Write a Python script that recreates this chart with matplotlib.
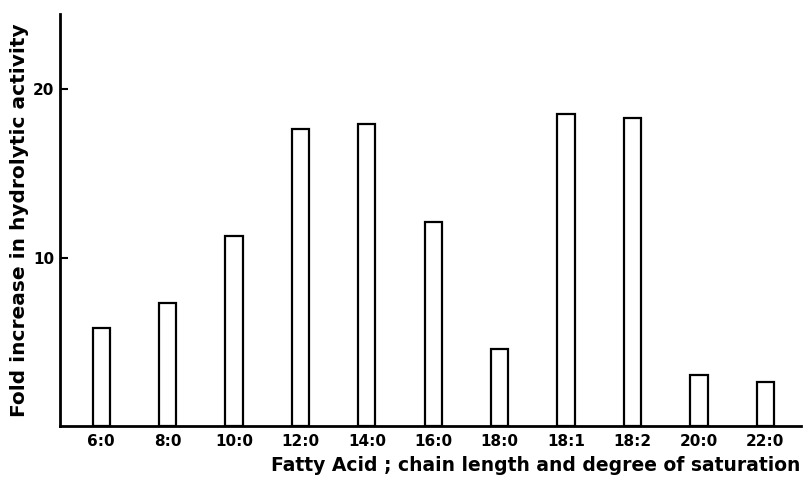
import matplotlib.pyplot as plt
import numpy as np

# fatty acid (chain length : double bonds) and fold increase in hydrolysis
acids = ['6:0', '8:0', '10:0', '12:0', '14:0', '16:0', '18:0', '18:1', '18:2', '20:0', '22:0']
fold = [5.8, 7.3, 11.3, 17.6, 17.9, 12.1, 4.6, 18.5, 18.3, 3.0, 2.6]

plt.rcParams['font.family'] = ['DejaVu Sans']
plt.rcParams['font.weight'] = 'bold'

fig = plt.figure(figsize=(8.05, 4.79), dpi=100)
ax = fig.add_axes([0.0745, 0.1106, 0.92, 0.86])

x = np.arange(len(acids))
ax.bar(x, fold, width=0.26, facecolor='white', edgecolor='black', linewidth=1.6)

ax.set_xlim(-0.62, 10.53)
ax.set_ylim(0, 24.45)
ax.set_xticks(x)
ax.set_xticklabels(acids, fontsize=11, fontweight='bold')
ax.set_yticks([10, 20])
ax.set_yticklabels(['10', '20'], fontsize=11, fontweight='bold')
ax.tick_params(axis='x', length=0, pad=6)
ax.tick_params(axis='y', direction='in', length=6, width=1.5, pad=4)

for s in ['top', 'right']:
    ax.spines[s].set_visible(False)
for s in ['left', 'bottom']:
    ax.spines[s].set_linewidth(2)

ax.set_xlabel('Fatty Acid ; chain length and degree of saturation',
              fontsize=13.5, fontweight='bold', loc='right', labelpad=5)
ax.set_ylabel('Fold increase in hydrolytic activity',
              fontsize=14.5, fontweight='bold', labelpad=3)

fig.savefig('out.png', dpi=100)
